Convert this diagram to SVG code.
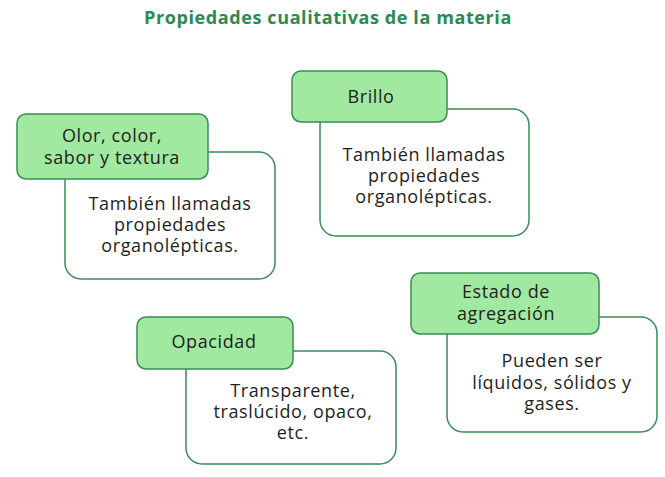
<svg xmlns="http://www.w3.org/2000/svg" width="665" height="477" viewBox="0 0 665 477">
<style>
.title{font-family:"Open Sans","Liberation Sans",sans-serif;font-size:18px;font-weight:bold;fill:#2b8a52;text-anchor:middle;letter-spacing:0.6px}
.hd{fill:#a1e8a1;stroke:#3a8c57;stroke-width:1.5}
.bd{fill:#ffffff;stroke:#3a8c57;stroke-width:1.5}
.t{font-family:"Open Sans","Liberation Sans",sans-serif;font-size:18px;fill:#1e1e1e;text-anchor:middle;letter-spacing:0.6px}
</style>
<rect width="665" height="477" fill="#ffffff"/>
<text class="title" x="328" y="24">Propiedades cualitativas de la materia</text>
<g id="connectors"></g>
<g id="node-olor">
<rect class="bd" x="65" y="152" width="210" height="127" rx="16"/>
<rect class="hd" x="17" y="114" width="191" height="65" rx="9"/>
<text class="t" x="112" y="142">Olor, color,</text>
<text class="t" x="112" y="164">sabor y textura</text>
<text class="t" x="170" y="210">También llamadas</text>
<text class="t" x="170" y="231">propiedades</text>
<text class="t" x="170" y="252">organolépticas.</text>
</g>
<g id="node-brillo">
<rect class="bd" x="320" y="109" width="209" height="127" rx="16"/>
<rect class="hd" x="292" y="71" width="155" height="51" rx="9"/>
<text class="t" x="371" y="103">Brillo</text>
<text class="t" x="424" y="161">También llamadas</text>
<text class="t" x="424" y="182">propiedades</text>
<text class="t" x="424" y="203">organolépticas.</text>
</g>
<g id="node-opacidad">
<rect class="bd" x="186" y="351" width="210" height="113" rx="16"/>
<rect class="hd" x="137" y="317" width="156" height="52" rx="9"/>
<text class="t" x="214" y="348">Opacidad</text>
<text class="t" x="293" y="397">Transparente,</text>
<text class="t" x="293" y="418">traslúcido, opaco,</text>
<text class="t" x="293" y="439">etc.</text>
</g>
<g id="node-estado">
<rect class="bd" x="447" y="317" width="210" height="115" rx="16"/>
<rect class="hd" x="411" y="273" width="188" height="61" rx="9"/>
<text class="t" x="506" y="298">Estado de</text>
<text class="t" x="506" y="320">agregación</text>
<text class="t" x="552" y="367">Pueden ser</text>
<text class="t" x="552" y="389">líquidos, sólidos y</text>
<text class="t" x="552" y="410">gases.</text>
</g>
</svg>
